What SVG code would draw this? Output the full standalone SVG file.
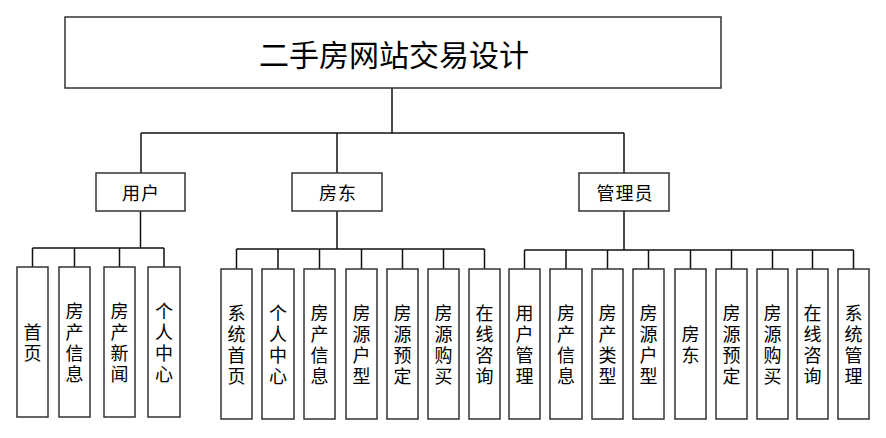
<svg xmlns="http://www.w3.org/2000/svg" width="886" height="438" viewBox="0 0 886 438">
<style>
.box{fill:#fff;stroke:#333;stroke-width:1.5}
.ln{fill:none;stroke:#111;stroke-width:1.5}
.t{font-family:"Noto Sans CJK SC","Noto Sans",sans-serif;fill:#000;text-anchor:middle;dominant-baseline:central}
.title{font-size:30px}
.l2{font-size:18px;letter-spacing:1px}
.v{font-size:18px;letter-spacing:3px;writing-mode:vertical-rl;text-orientation:upright}
</style>
<rect width="886" height="438" fill="#fff"/>
<g id="connectors">
<path class="ln" d="M392 88V133M141 133H624M141 133V173M337 133V173M624 133V173"/>
<path class="ln" d="M140.5 211V248M32.5 248H164M32.5 248V267M74.5 248V267M119.5 248V267M164 248V267"/>
<path class="ln" d="M337 211V249M236.5 249H484.5M236.5 249V269M278 249V269M319.5 249V269M361.5 249V269M402.5 249V269M443.5 249V269M484.5 249V269"/>
<path class="ln" d="M624 211V250M524.5 250H853.5M524.5 250V269M566 250V269M607.5 250V269M648.5 250V269M690.5 250V269M731.5 250V269M772.5 250V269M812.5 250V269M853.5 250V269"/>
</g>
<g id="root"><rect class="box" x="65" y="17" width="656" height="71"/><text class="t title" x="394" y="53">二手房网站交易设计</text></g>
<g id="yonghu"><rect class="box" x="96" y="173" width="89" height="38"/><text class="t l2" x="141" y="192">用户</text></g>
<g id="fangdong"><rect class="box" x="292" y="173" width="90" height="38"/><text class="t l2" x="338" y="192">房东</text></g>
<g id="guanliyuan"><rect class="box" x="579" y="173" width="90" height="38"/><text class="t l2" x="625" y="192">管理员</text></g>

<g id="u1"><rect class="box" x="17" y="267" width="31" height="150"/><text class="t v" x="32.5" y="344">首页</text></g>
<g id="u2"><rect class="box" x="59" y="267" width="31" height="150"/><text class="t v" x="74.5" y="344">房产信息</text></g>
<g id="u3"><rect class="box" x="104" y="267" width="31" height="150"/><text class="t v" x="119.5" y="344">房产新闻</text></g>
<g id="u4"><rect class="box" x="148" y="267" width="32" height="150"/><text class="t v" x="164" y="344">个人中心</text></g>

<g id="f1"><rect class="box" x="221" y="269" width="31" height="150"/><text class="t v" x="236.5" y="346">系统首页</text></g>
<g id="f2"><rect class="box" x="262" y="269" width="32" height="150"/><text class="t v" x="278" y="346">个人中心</text></g>
<g id="f3"><rect class="box" x="304" y="269" width="31" height="150"/><text class="t v" x="319.5" y="346">房产信息</text></g>
<g id="f4"><rect class="box" x="346" y="269" width="31" height="150"/><text class="t v" x="361.5" y="346">房源户型</text></g>
<g id="f5"><rect class="box" x="387" y="269" width="31" height="150"/><text class="t v" x="402.5" y="346">房源预定</text></g>
<g id="f6"><rect class="box" x="428" y="269" width="31" height="150"/><text class="t v" x="443.5" y="346">房源购买</text></g>
<g id="f7"><rect class="box" x="469" y="269" width="31" height="150"/><text class="t v" x="484.5" y="346">在线咨询</text></g>

<g id="a1"><rect class="box" x="509" y="269" width="31" height="150"/><text class="t v" x="524.5" y="346">用户管理</text></g>
<g id="a2"><rect class="box" x="550" y="269" width="32" height="150"/><text class="t v" x="566" y="346">房产信息</text></g>
<g id="a3"><rect class="box" x="592" y="269" width="31" height="150"/><text class="t v" x="607.5" y="346">房产类型</text></g>
<g id="a4"><rect class="box" x="633" y="269" width="31" height="150"/><text class="t v" x="648.5" y="346">房源户型</text></g>
<g id="a5"><rect class="box" x="675" y="269" width="31" height="150"/><text class="t v" x="690.5" y="346">房东</text></g>
<g id="a6"><rect class="box" x="716" y="269" width="31" height="150"/><text class="t v" x="731.5" y="346">房源预定</text></g>
<g id="a7"><rect class="box" x="757" y="269" width="31" height="150"/><text class="t v" x="772.5" y="346">房源购买</text></g>
<g id="a8"><rect class="box" x="797" y="269" width="31" height="150"/><text class="t v" x="812.5" y="346">在线咨询</text></g>
<g id="a9"><rect class="box" x="838" y="269" width="31" height="150"/><text class="t v" x="853.5" y="346">系统管理</text></g>
</svg>
